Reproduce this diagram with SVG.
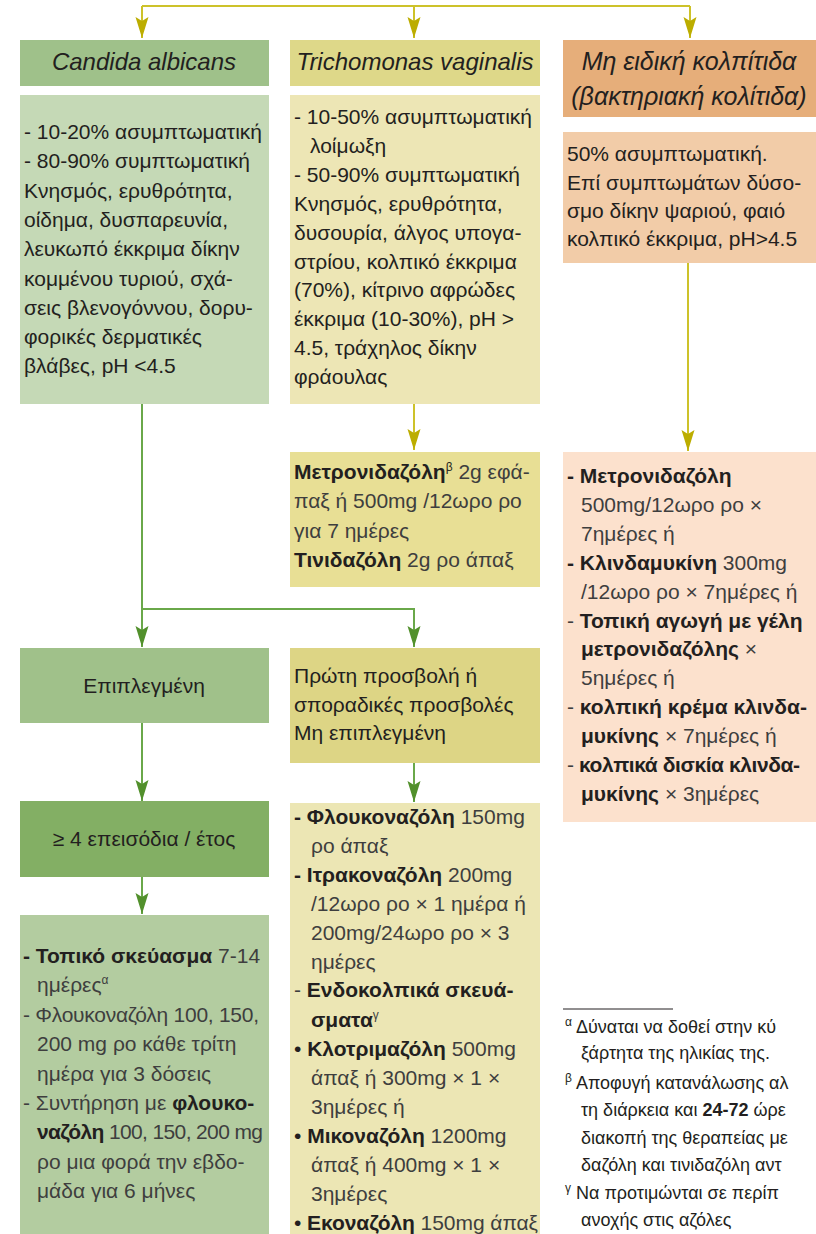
<svg xmlns="http://www.w3.org/2000/svg" width="816" height="1234" viewBox="0 0 816 1234">
<defs>
<style>
text{font-family:"Liberation Sans",Arial,sans-serif;font-size:21px;fill:#231f20}
.h{font-size:24px;font-style:italic;text-anchor:middle}
.c{text-anchor:middle}
.b{font-weight:bold}
.l{fill:#3e3e3e}
.s{font-size:12px}
.fn{font-size:18px}
.y{stroke:#cdc22a;stroke-width:2;fill:none}
.g{stroke:#6aa84a;stroke-width:2;fill:none}
</style>
<marker id="ay" viewBox="-21 -7 22 14" refX="0" refY="0" markerWidth="22" markerHeight="14" markerUnits="userSpaceOnUse" orient="auto">
<path d="M0,0 L-21,-6.5 L-17,0 L-21,6.5 Z" fill="#bcad00"/>
</marker>
<marker id="ag" viewBox="-21 -7 22 14" refX="0" refY="0" markerWidth="22" markerHeight="14" markerUnits="userSpaceOnUse" orient="auto">
<path d="M0,0 L-21,-6.5 L-17,0 L-21,6.5 Z" fill="#52902c"/>
</marker>
</defs>
<rect width="816" height="1234" fill="#ffffff"/>

<g id="connectors">
<path class="y" d="M142,6 H690"/>
<path class="y" d="M142,6 V38" marker-end="url(#ay)"/>
<path class="y" d="M414,6 V38" marker-end="url(#ay)"/>
<path class="y" d="M690,6 V38" marker-end="url(#ay)"/>
<path class="y" d="M414,404 V450" marker-end="url(#ay)"/>
<path class="y" d="M688,263 V451" marker-end="url(#ay)"/>
<path class="g" d="M142,404 V647" marker-end="url(#ag)"/>
<path class="g" d="M142,609 H414 V647" marker-end="url(#ag)"/>
<path class="g" d="M142,723 V801" marker-end="url(#ag)"/>
<path class="g" d="M142,877 V914" marker-end="url(#ag)"/>
<path class="g" d="M414,763 V802" marker-end="url(#ag)"/>
</g>

<g id="candida-header">
<rect x="20" y="40" width="249" height="46" fill="#9fc18a"/>
<text class="h" x="144" y="70">Candida albicans</text>
</g>
<g id="trichomonas-header">
<rect x="290" y="40" width="250" height="46" fill="#ded889"/>
<text class="h" x="415" y="70">Trichomonas vaginalis</text>
</g>
<g id="bv-header">
<rect x="563" y="40" width="253" height="77" fill="#e6ae7a"/>
<text class="h" x="689" y="70" style="font-size:25px">Μη ειδική κολπίτιδα</text>
<text class="h" x="689" y="105" style="font-size:25px">(βακτηριακή κολίτιδα)</text>
</g>

<g id="candida-body">
<rect x="20" y="95" width="249" height="309" fill="#c5d9b6"/>
<text x="24" y="139">- 10-20% ασυμπτωματική</text>
<text x="24" y="168.3">- 80-90% συμπτωματική</text>
<text x="24" y="197.6">Κνησμός, ερυθρότητα,</text>
<text x="24" y="226.9">οίδημα, δυσπαρευνία,</text>
<text x="24" y="256.2">λευκωπό έκκριμα δίκην</text>
<text x="24" y="285.5">κομμένου τυριού, σχά-</text>
<text x="24" y="314.8">σεις βλενογόννου, δορυ-</text>
<text x="24" y="344.1">φορικές δερματικές</text>
<text x="24" y="373.4">βλάβες, pH &lt;4.5</text>
</g>

<g id="trichomonas-body">
<rect x="290" y="95" width="250" height="309" fill="#ede6b5"/>
<text x="294" y="124">- 10-50% ασυμπτωματική</text>
<text x="310" y="152.9">λοίμωξη</text>
<text x="294" y="181.8">- 50-90% συμπτωματική</text>
<text x="294" y="210.7">Κνησμός, ερυθρότητα,</text>
<text x="294" y="239.6">δυσουρία, άλγος υπογα-</text>
<text x="294" y="268.5">στρίου, κολπικό έκκριμα</text>
<text x="294" y="297.4">(70%), κίτρινο αφρώδες</text>
<text x="294" y="326.3">έκκριμα (10-30%), pH &gt;</text>
<text x="294" y="355.2">4.5, τράχηλος δίκην</text>
<text x="294" y="384.1">φράουλας</text>
</g>

<g id="bv-body">
<rect x="563" y="132" width="253" height="131" fill="#f2cca8"/>
<text x="567" y="161">50% ασυμπτωματική.</text>
<text x="567" y="190">Επί συμπτωμάτων δύσο-</text>
<text x="567" y="218">σμο δίκην ψαριού, φαιό</text>
<text x="567" y="246">κολπικό έκκριμα, pH&gt;4.5</text>
</g>

<g id="trichomonas-treatment">
<rect x="290" y="452" width="250" height="135" fill="#e8df95"/>
<text x="294" y="479"><tspan class="b">Μετρονιδαζόλη</tspan><tspan class="s" dy="-8">β</tspan><tspan class="l" dy="8"> 2g εφά-</tspan></text>
<text x="294" y="508.3" class="l">παξ ή 500mg /12ωρο ρο</text>
<text x="294" y="537.6" class="l">για 7 ημέρες</text>
<text x="294" y="567"><tspan class="b">Τινιδαζόλη</tspan><tspan class="l"> 2g ρο άπαξ</tspan></text>
</g>

<g id="bv-treatment">
<rect x="563" y="452" width="253" height="370" fill="#fce1cd"/>
<text x="567" y="483" class="b">- Μετρονιδαζόλη</text>
<text x="581" y="511.9" class="l">500mg/12ωρο ρο ×</text>
<text x="581" y="540.8" class="l">7ημέρες ή</text>
<text x="567" y="569.7"><tspan class="b">- Κλινδαμυκίνη</tspan><tspan class="l"> 300mg</tspan></text>
<text x="581" y="598.6" class="l">/12ωρο ρο × 7ημέρες ή</text>
<text x="567" y="627.5"><tspan class="l">- </tspan><tspan class="b">Τοπική αγωγή με γέλη</tspan></text>
<text x="581" y="656.4"><tspan class="b">μετρονιδαζόλης</tspan><tspan class="l"> ×</tspan></text>
<text x="581" y="685.3" class="l">5ημέρες ή</text>
<text x="567" y="714.2"><tspan class="l">- </tspan><tspan class="b">κολπική κρέμα κλινδα-</tspan></text>
<text x="581" y="743.1"><tspan class="b">μυκίνης</tspan><tspan class="l"> × 7ημέρες ή</tspan></text>
<text x="567" y="772" textLength="233"><tspan class="l">- </tspan><tspan class="b">κολπικά δισκία κλινδα-</tspan></text>
<text x="581" y="800.9"><tspan class="b">μυκίνης</tspan><tspan class="l"> × 3ημέρες</tspan></text>
</g>

<g id="complicated">
<rect x="20" y="648" width="249" height="75" fill="#a0c18a"/>
<text class="c" x="144" y="693">Επιπλεγμένη</text>
</g>

<g id="uncomplicated">
<rect x="290" y="648" width="250" height="115" fill="#ddd585"/>
<text x="294" y="683">Πρώτη προσβολή ή</text>
<text x="294" y="711.5">σποραδικές προσβολές</text>
<text x="294" y="740">Μη επιπλεγμένη</text>
</g>

<g id="recurrent">
<rect x="20" y="801" width="249" height="76" fill="#83af64"/>
<text class="c" x="144" y="846">≥ 4 επεισόδια / έτος</text>
</g>

<g id="recurrent-treatment">
<rect x="20" y="915" width="249" height="319" fill="#b3cca0"/>
<text x="23" y="963"><tspan class="b">- Τοπικό σκεύασμα</tspan><tspan class="l"> 7-14</tspan></text>
<text x="37" y="992.4" class="l">ημέρες<tspan class="s" dy="-8">α</tspan></text>
<text x="23" y="1021.8" class="l" textLength="236">- Φλουκοναζόλη 100, 150,</text>
<text x="37" y="1051.2" class="l">200 mg ρο κάθε τρίτη</text>
<text x="37" y="1080.6" class="l">ημέρα για 3 δόσεις</text>
<text x="23" y="1110"><tspan class="l">- Συντήρηση με </tspan><tspan class="b">φλουκο-</tspan></text>
<text x="37" y="1139.4" textLength="226"><tspan class="b">ναζόλη</tspan><tspan class="l"> 100, 150, 200 mg</tspan></text>
<text x="37" y="1168.8" class="l">ρο μια φορά την εβδο-</text>
<text x="37" y="1198.2" class="l">μάδα για 6 μήνες</text>
</g>

<g id="uncomplicated-treatment">
<rect x="290" y="803" width="250" height="431" fill="#ece6b4"/>
<text x="294" y="824"><tspan class="b">- Φλουκοναζόλη</tspan><tspan class="l"> 150mg</tspan></text>
<text x="311" y="852.9" class="l">ρο άπαξ</text>
<text x="294" y="881.8"><tspan class="b">- Ιτρακοναζόλη</tspan><tspan class="l"> 200mg</tspan></text>
<text x="311" y="910.7" class="l">/12ωρο ρο × 1 ημέρα ή</text>
<text x="311" y="939.6" class="l">200mg/24ωρο ρο × 3</text>
<text x="311" y="968.5" class="l">ημέρες</text>
<text x="294" y="997.4"><tspan class="l">- </tspan><tspan class="b">Ενδοκολπικά σκευά-</tspan></text>
<text x="311" y="1027.3"><tspan class="b">σματα</tspan><tspan class="s l" dy="-8">γ</tspan></text>
<text x="294" y="1056.2"><tspan>• </tspan><tspan class="b">Κλοτριμαζόλη</tspan><tspan class="l"> 500mg</tspan></text>
<text x="311" y="1085.1" class="l">άπαξ ή 300mg × 1 ×</text>
<text x="311" y="1114" class="l">3ημέρες ή</text>
<text x="294" y="1142.9"><tspan>• </tspan><tspan class="b">Μικοναζόλη</tspan><tspan class="l"> 1200mg</tspan></text>
<text x="311" y="1171.8" class="l">άπαξ ή 400mg × 1 ×</text>
<text x="311" y="1200.7" class="l">3ημέρες</text>
<text x="294" y="1229.6" textLength="244"><tspan>• </tspan><tspan class="b">Εκοναζόλη</tspan><tspan class="l"> 150mg άπαξ</tspan></text>
</g>

<g id="footnotes">
<path d="M563,1009 H673" stroke="#231f20" stroke-width="1"/>
<text x="565" y="1033" class="fn"><tspan class="s" dy="-7">α</tspan><tspan dy="7"> Δύναται να δοθεί στην κύ</tspan></text>
<text x="581" y="1059" class="fn">ξάρτητα της ηλικίας της.</text>
<text x="565" y="1089" class="fn"><tspan class="s" dy="-7">β</tspan><tspan dy="7"> Αποφυγή κατανάλωσης αλ</tspan></text>
<text x="581" y="1116" class="fn">τη διάρκεια και <tspan class="b">24-72</tspan> ώρε</text>
<text x="581" y="1144" class="fn">διακοπή της θεραπείας με</text>
<text x="581" y="1171" class="fn">δαζόλη και τινιδαζόλη αντ</text>
<text x="565" y="1199" class="fn"><tspan class="s" dy="-7">γ</tspan><tspan dy="7"> Να προτιμώνται σε περίπ</tspan></text>
<text x="581" y="1226" class="fn">ανοχής στις αζόλες</text>
</g>
</svg>
